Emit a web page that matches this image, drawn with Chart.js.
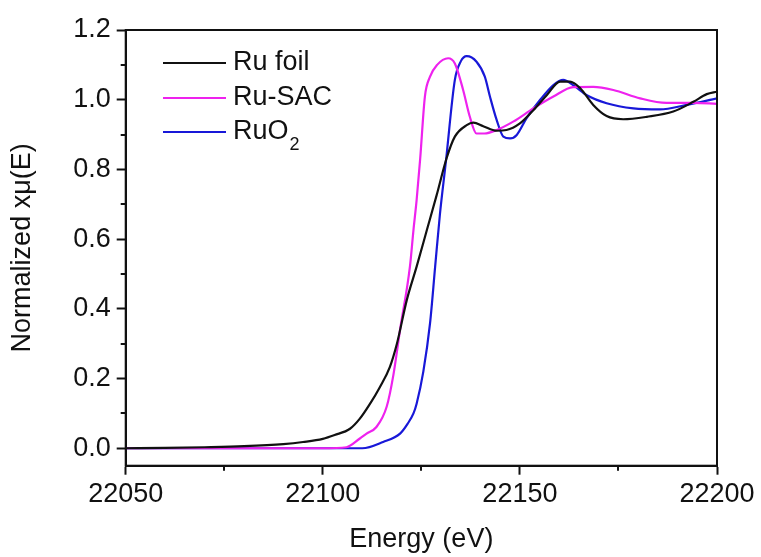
<!DOCTYPE html>
<html>
<head>
<meta charset="utf-8">
<script src="https://cdn.jsdelivr.net/npm/chart.js@4/dist/chart.umd.min.js"></script>
<style>
  html, body { margin: 0; padding: 0; background: #fff; }
  #wrap { width: 761px; height: 557px; }
</style>
</head>
<body>
<div id="wrap"><canvas id="xanes" width="761" height="557"></canvas></div>
<script>
// --- data ---
const foilEnergy = [22050, 22060, 22070, 22080, 22090, 22095, 22100, 22103, 22106.9, 22109.4, 22112, 22114.5, 22117, 22118.8, 22121.3, 22123.8, 22126.4, 22128.9, 22131.4, 22133.5, 22136.5, 22138.2, 22140.7, 22144.1, 22146.6, 22150, 22153.4, 22156.8, 22160.2, 22162.7, 22165.3, 22168.6, 22172, 22176.2, 22182.2, 22188.9, 22194, 22197.4, 22200];
const foilMu = [0.0, 0.001, 0.003, 0.006, 0.012, 0.018, 0.027, 0.038, 0.056, 0.085, 0.128, 0.176, 0.233, 0.300, 0.425, 0.521, 0.626, 0.727, 0.832, 0.894, 0.927, 0.934, 0.924, 0.911, 0.913, 0.932, 0.970, 1.013, 1.052, 1.052, 1.033, 0.985, 0.953, 0.944, 0.951, 0.966, 0.994, 1.016, 1.023];

const sacEnergy = [22050, 22100, 22106, 22109.4, 22111.1, 22113.6, 22116.2, 22117.9, 22119.6, 22122.1, 22123, 22123.8, 22124.7, 22125.9, 22127.2, 22129, 22131.8, 22133.5, 22135.6, 22137.3, 22139, 22141, 22144.1, 22148.3, 22153.4, 22158.5, 22163.5, 22168.6, 22173.7, 22180.5, 22187.2, 22194, 22200];
const sacMu = [0.0, 0.0, 0.003, 0.028, 0.042, 0.061, 0.119, 0.210, 0.340, 0.521, 0.626, 0.712, 0.830, 1.009, 1.066, 1.100, 1.119, 1.104, 1.028, 0.951, 0.903, 0.903, 0.913, 0.937, 0.975, 1.009, 1.036, 1.037, 1.028, 1.004, 0.991, 0.991, 0.988];

const oxideEnergy = [22050, 22110, 22115.3, 22119.6, 22121.5, 22123, 22123.8, 22125.5, 22127.2, 22128.5, 22129.7, 22131.2, 22133.5, 22135, 22136.5, 22139, 22141.1, 22142.4, 22144.1, 22145.8, 22147.5, 22149.2, 22151.7, 22155.1, 22158.5, 22161, 22163.5, 22167, 22172, 22178.8, 22185.5, 22192.3, 22200];
const oxideMu = [0.0, 0.0, 0.018, 0.042, 0.070, 0.100, 0.128, 0.220, 0.358, 0.521, 0.670, 0.820, 1.057, 1.110, 1.125, 1.109, 1.066, 1.009, 0.942, 0.894, 0.889, 0.899, 0.947, 0.999, 1.042, 1.057, 1.042, 1.013, 0.990, 0.975, 0.972, 0.985, 1.004];

const xTicks = [22050, 22100, 22150, 22200];
const xMinor = [22075, 22125, 22175];
const yTicks = [0.0, 0.2, 0.4, 0.6, 0.8, 1.0, 1.2];
const yMinor = [0.1, 0.3, 0.5, 0.7, 0.9, 1.1];

const seriesNames = ['Ru foil', 'Ru-SAC', 'RuO2'];
const seriesColors = ['#111111', '#ee22ee', '#1818d8'];

function toPoints(xs, ys) {
  return xs.map((x, i) => ({ x: x, y: ys[i] }));
}

const FONT = 'Liberation Sans, Arial, sans-serif';

// box, minor ticks and in-plot legend
const extras = {
  id: 'extras',
  afterDraw(chart) {
    const ctx = chart.ctx;
    const a = chart.chartArea;
    const xs = chart.scales.x, ys = chart.scales.y;
    ctx.save();
    ctx.strokeStyle = '#111';
    ctx.lineWidth = 2;
    ctx.strokeRect(a.left, a.top, a.right - a.left, a.bottom - a.top);

    ctx.beginPath();
    xMinor.forEach(v => {
      const px = Math.round(xs.getPixelForValue(v));
      ctx.moveTo(px, a.bottom);
      ctx.lineTo(px, a.bottom + 5);
    });
    yMinor.forEach(v => {
      const py = Math.round(ys.getPixelForValue(v));
      ctx.moveTo(a.left, py);
      ctx.lineTo(a.left - 5, py);
    });
    ctx.stroke();

    // legend
    const rows = [63, 98, 132];
    ctx.textBaseline = 'middle';
    ctx.textAlign = 'left';
    ctx.fillStyle = '#111';
    rows.forEach((y, i) => {
      ctx.strokeStyle = seriesColors[i];
      ctx.lineWidth = 2;
      ctx.beginPath();
      ctx.moveTo(163, y);
      ctx.lineTo(226, y);
      ctx.stroke();
      ctx.font = '27px ' + FONT;
      if (seriesNames[i] === 'RuO2') {
        ctx.fillText('RuO', 233, y);
        const w = ctx.measureText('RuO').width;
        ctx.font = '18px ' + FONT;
        ctx.fillText('2', 233 + w + 1, y + 13);
      } else {
        ctx.fillText(seriesNames[i], 233, y);
      }
    });
    ctx.restore();
  }
};

new Chart(document.getElementById('xanes'), {
  type: 'line',
  data: {
    datasets: [
      { label: seriesNames[0], data: toPoints(foilEnergy, foilMu), borderColor: seriesColors[0] },
      { label: seriesNames[1], data: toPoints(sacEnergy, sacMu), borderColor: seriesColors[1] },
      { label: seriesNames[2], data: toPoints(oxideEnergy, oxideMu), borderColor: seriesColors[2] }
    ]
  },
  options: {
    responsive: false,
    animation: false,
    layout: { padding: { top: 30, right: 44, left: 0, bottom: 0 } },
    elements: {
      point: { radius: 0 },
      line: { borderWidth: 2.2, cubicInterpolationMode: 'monotone', fill: false }
    },
    plugins: { legend: { display: false }, tooltip: { enabled: false } },
    scales: {
      x: {
        type: 'linear',
        min: 22050,
        max: 22200,
        afterBuildTicks: s => { s.ticks = xTicks.map(v => ({ value: v })); },
        afterFit: s => { s.height = 91.3; },
        grid: { drawOnChartArea: false, tickLength: 9, tickWidth: 2, color: '#111' },
        border: { color: '#111', width: 2 },
        ticks: { color: '#111', padding: 4, font: { family: FONT, size: 27 }, maxRotation: 0, callback: v => String(v) },
        title: { display: true, text: 'Energy (eV)', color: '#111', font: { family: FONT, size: 27 }, padding: { top: 0, bottom: 1 } }
      },
      y: {
        min: -0.05,
        max: 1.2,
        afterBuildTicks: s => { s.ticks = yTicks.map(v => ({ value: v })); },
        afterFit: s => { s.width = 125.7; },
        grid: { drawOnChartArea: false, tickLength: 9, tickWidth: 2, color: '#111' },
        border: { color: '#111', width: 2 },
        ticks: { color: '#111', padding: 6, font: { family: FONT, size: 27 }, callback: v => v.toFixed(1) },
        title: { display: true, text: 'Normalized xμ(E)', color: '#111', font: { family: FONT, size: 27 }, padding: { top: 6, bottom: 0 } }
      }
    }
  },
  plugins: [extras]
});
</script>
</body>
</html>
